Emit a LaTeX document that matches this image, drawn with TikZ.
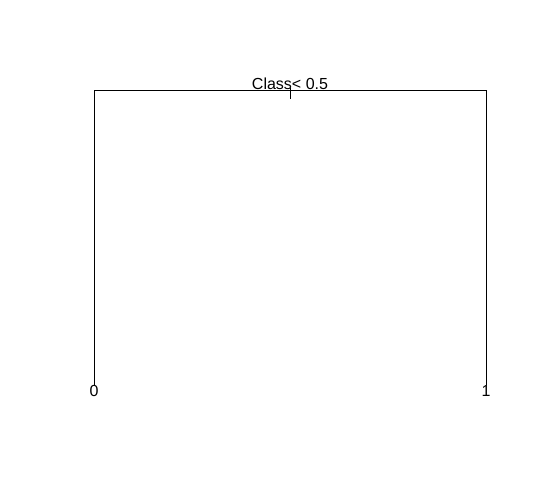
\documentclass[tikz,border=0pt]{standalone}
\usepackage{fontspec}
\setmainfont{Liberation Sans}
\begin{document}
\begin{tikzpicture}[x=1pt,y=-1pt,
  edge/.style={draw=black,line width=0.6pt},
  lbl/.style={inner sep=0pt,font=\fontsize{16}{16}\selectfont}]
\useasboundingbox (0,0) rectangle (542,494);
\coordinate (root) at (290,88);
\coordinate (rtick) at (290,99);
\coordinate (lt) at (94,90);
\coordinate (rt) at (486,90);
\coordinate (lb) at (94,385);
\coordinate (rb) at (486,385);
\node[lbl,anchor=base] (split) at (290,89.5) {Class< 0.5};
\node[lbl,anchor=north] (leaf0) at (94,385) {0};
\node[lbl,anchor=north] (leaf1) at (486,385) {1};
\draw[edge] (lb) -- (lt) -- (rt) -- (rb);
\draw[edge,line width=0.8pt] (root) -- (rtick);
\end{tikzpicture}
\end{document}
